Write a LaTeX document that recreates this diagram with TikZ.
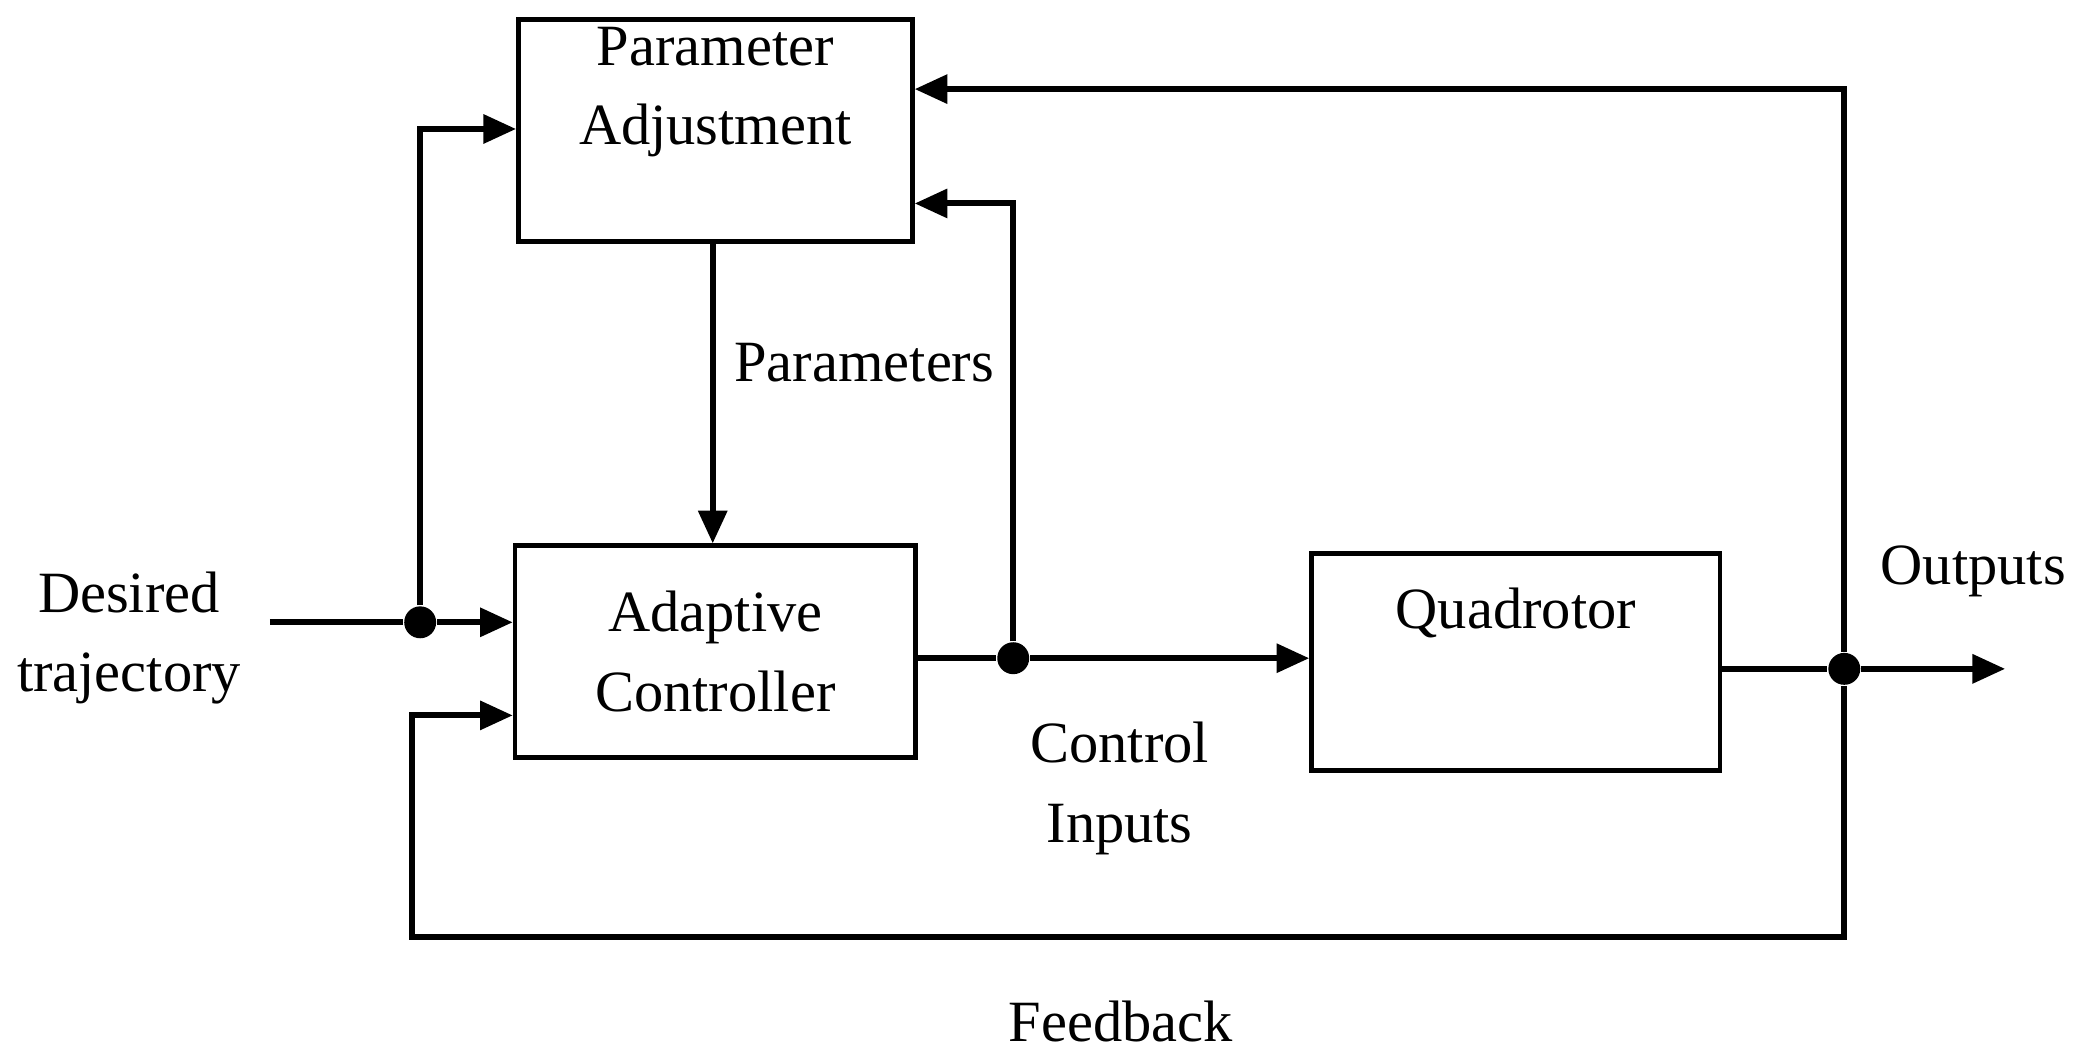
\documentclass[tikz,border=0pt]{standalone}
\usepackage{fontspec}
\setmainfont{Liberation Serif}
\usetikzlibrary{arrows.meta}
\begin{document}
\begin{tikzpicture}[x=0.01cm,y=-0.01cm,
  box/.style={draw,line width=1pt,inner sep=0pt,align=center,font=\fontsize{12.5}{17}\selectfont},
  lbl/.style={align=center,font=\fontsize{12.5}{17}\selectfont},
  ln/.style={line width=1.3pt},
  arr/.style={ln,-{Triangle[length=7pt,width=6pt]}},
  dot/.style={circle,fill,inner sep=0pt,minimum size=0.24cm}]
\useasboundingbox (0,0) rectangle (1568,797);
\node[box,minimum width=2.96cm,minimum height=1.67cm] (pa) at (538,98) {Parameter\\Adjustment\\[2pt]};
\node[box,minimum width=3.01cm,minimum height=1.59cm] (ac) at (538,490) {Adaptive\\Controller};
\node[box,minimum width=3.07cm,minimum height=1.63cm] (q) at (1140,498) {Quadrotor\\[6pt]};
\node[lbl] (dt) at (97,480) {Desired\\trajectory};
\node[lbl] at (650,273) {Parameters};
\node[lbl] at (842,593) {Control\\Inputs};
\node[lbl] at (1484,430) {Outputs};
\node[lbl] at (843,768) {Feedback};
\node[dot] (d1) at (316,468) {};
\node[dot] (d2) at (762,495) {};
\node[dot] (d3) at (1387,503) {};
\coordinate (dtin) at (203,468);
\coordinate (out) at (1508,503);
\draw[ln] (dtin) -- (d1);
\draw[arr] (d1) -- (ac.west |- d1);
\draw[arr] (d1) |- (pa.west |- 0,97);
\draw[arr] (pa.south -| 536,0) -- (ac.north -| 536,0);
\draw[ln] (ac.east |- d2) -- (d2);
\draw[arr] (d2) -- (q.west |- d2);
\draw[arr] (d2) |- (pa.east |- 0,153);
\draw[ln] (q.east |- d3) -- (d3);
\draw[arr] (d3) -- (out);
\draw[arr] (d3) |- (pa.east |- 0,67);
\draw[arr] (d3) -- (1387,705) -| (310,538) -- (ac.west |- 0,538);
\end{tikzpicture}
\end{document}
